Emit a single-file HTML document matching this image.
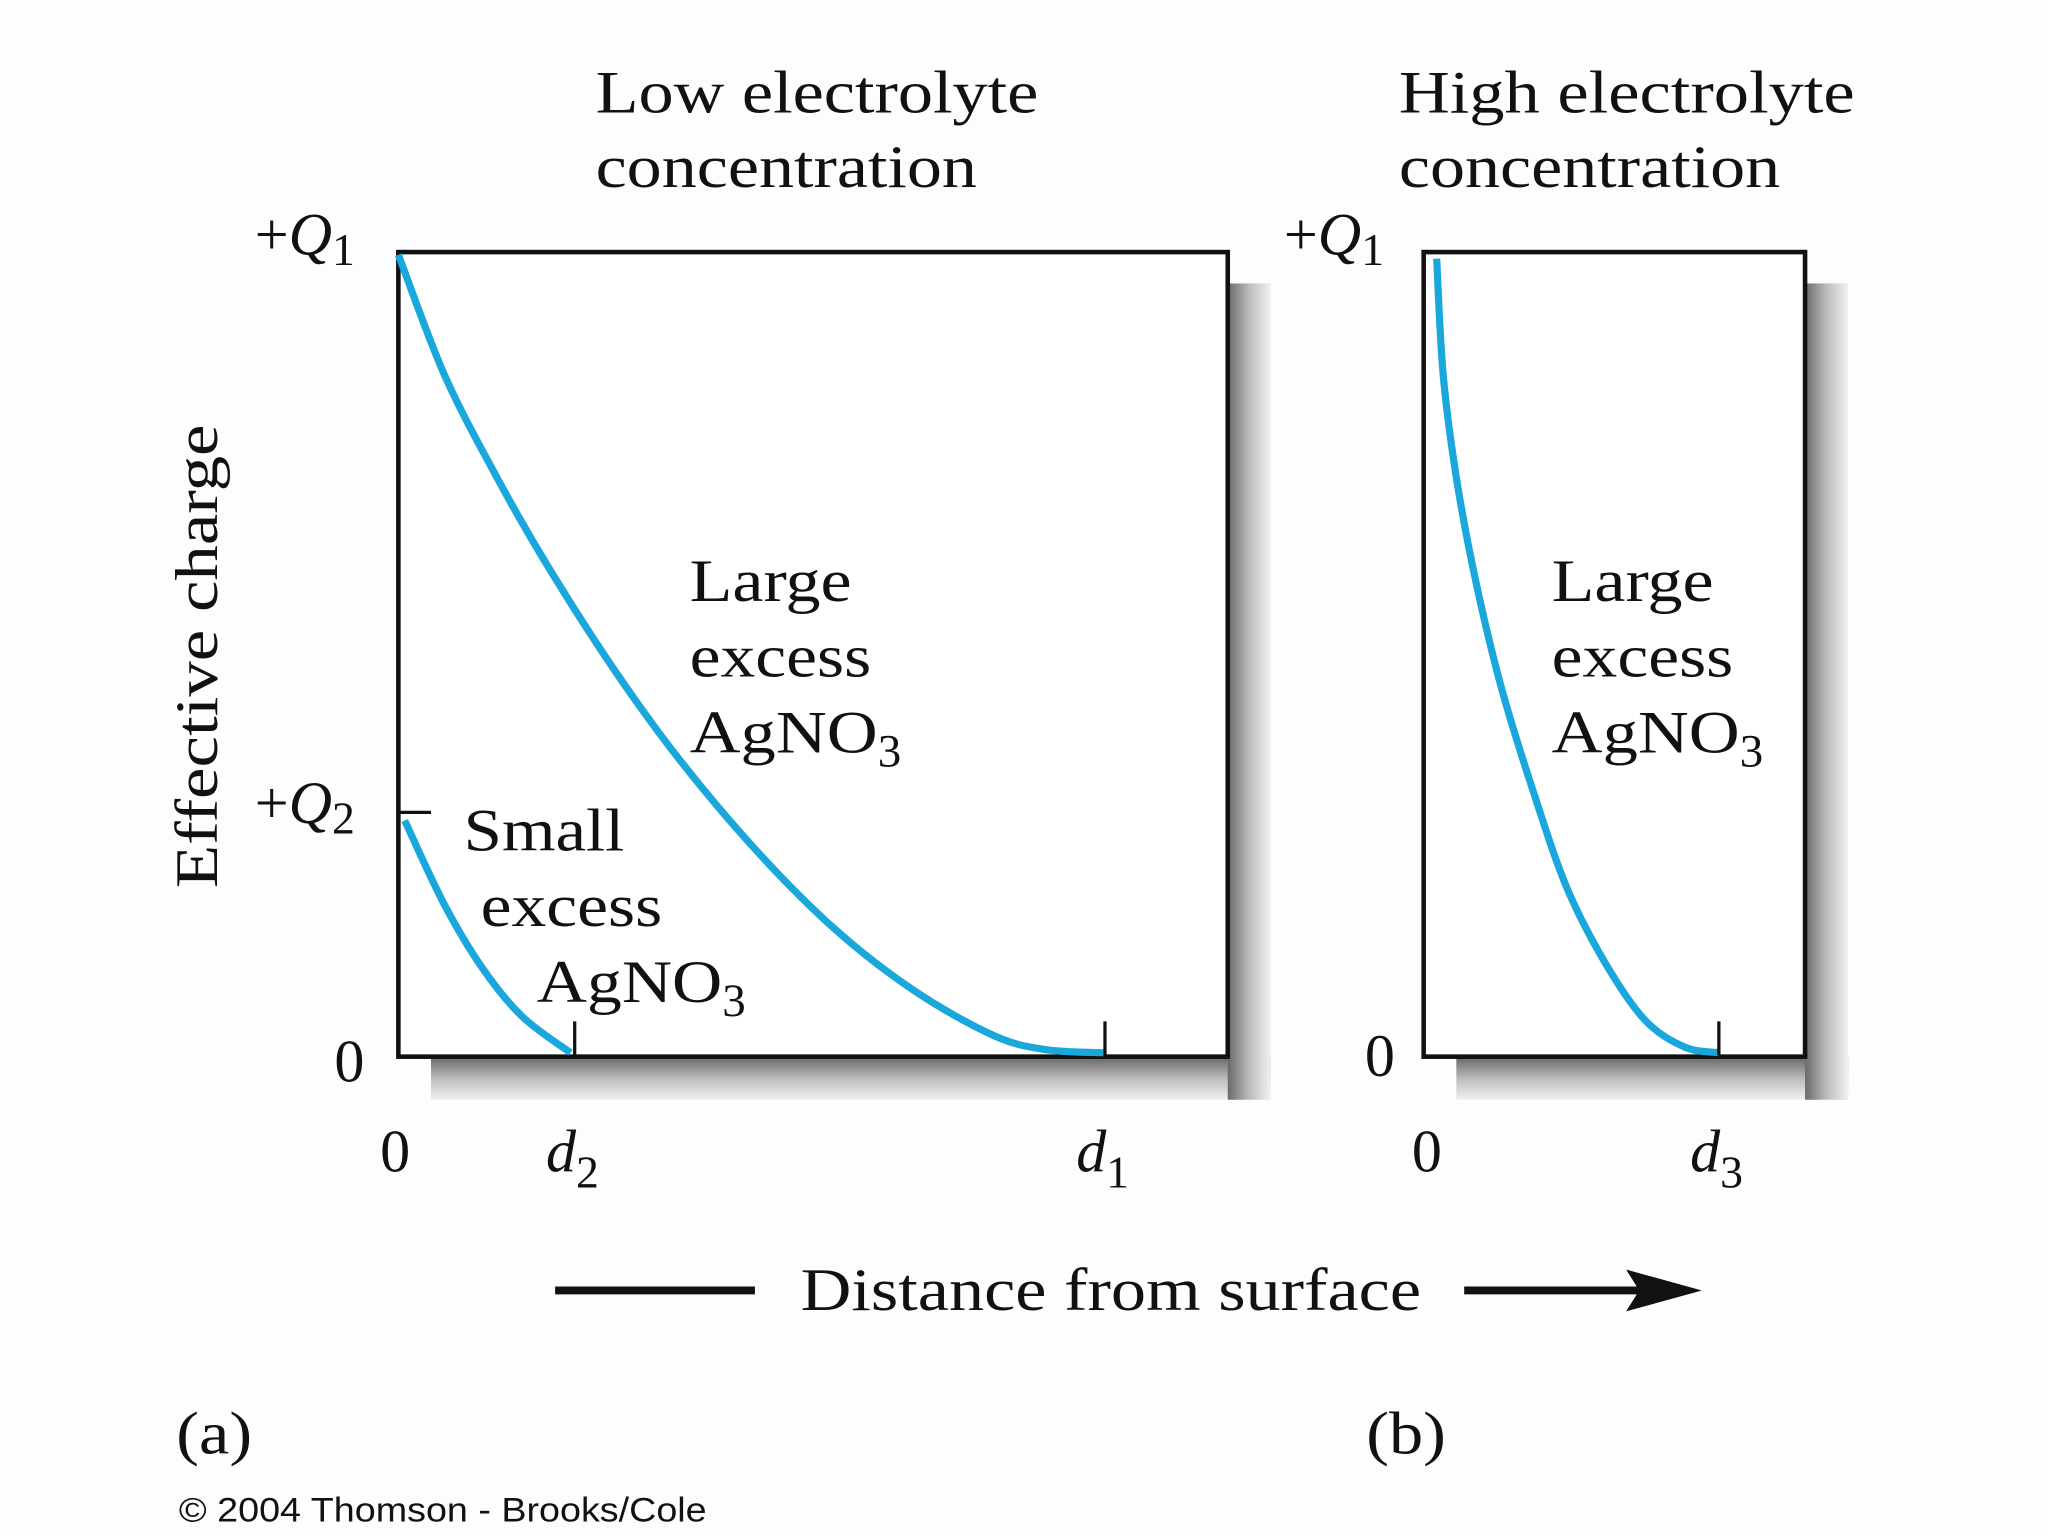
<!DOCTYPE html>
<html><head><meta charset="utf-8"><style>
html,body{margin:0;padding:0;background:#fdfcfe;}
svg{display:block;}
text{font-family:"Liberation Serif",serif;fill:#111;}
</style></head><body>
<svg id="chart" width="2048" height="1536" viewBox="0 0 1568 1176" xmlns="http://www.w3.org/2000/svg">
<defs>
<linearGradient id="shb" x1="0" y1="0" x2="0" y2="1"><stop offset="0" stop-color="#6a6a6a"/><stop offset="0.5" stop-color="#bdbdbd"/><stop offset="1" stop-color="#f1f0f3"/></linearGradient>
<linearGradient id="shr" x1="0" y1="0" x2="1" y2="0"><stop offset="0" stop-color="#6a6a6a"/><stop offset="0.5" stop-color="#bdbdbd"/><stop offset="1" stop-color="#f1f0f3"/></linearGradient>
</defs>
<rect x="0" y="0" width="1568" height="1176" fill="#fdfcfe"/>
<rect x="330" y="810" width="643" height="32" fill="url(#shb)"/>
<rect x="940" y="217" width="33" height="625" fill="url(#shr)"/>
<rect x="1115" y="810" width="300" height="32" fill="url(#shb)"/>
<rect x="1382" y="217" width="33" height="625" fill="url(#shr)"/>
<rect x="305" y="193" width="635" height="616" fill="#fff" stroke="#111" stroke-width="3.5"/>
<rect x="1090" y="193" width="292" height="616" fill="#fff" stroke="#111" stroke-width="3.5"/>
<g id="curves"></g>
<line x1="440" y1="782" x2="440" y2="808" stroke="#111" stroke-width="2.5"/>
<line x1="846" y1="782" x2="846" y2="808" stroke="#111" stroke-width="2.5"/>
<line x1="1316" y1="782" x2="1316" y2="808" stroke="#111" stroke-width="2.5"/>
<line x1="305" y1="622" x2="330" y2="622" stroke="#111" stroke-width="2.5"/>
<g font-size="46" lengthAdjust="spacingAndGlyphs">
<text x="456" y="86" textLength="339" lengthAdjust="spacingAndGlyphs">Low electrolyte</text>
<text x="456" y="143" textLength="292" lengthAdjust="spacingAndGlyphs">concentration</text>
<text x="1071" y="86" textLength="349" lengthAdjust="spacingAndGlyphs">High electrolyte</text>
<text x="1071" y="143" textLength="292" lengthAdjust="spacingAndGlyphs">concentration</text>
</g>
<text x="195" y="195" font-size="46">+<tspan font-style="italic">Q</tspan><tspan font-size="35" dy="8">1</tspan></text>
<text x="983" y="195" font-size="46">+<tspan font-style="italic">Q</tspan><tspan font-size="35" dy="8">1</tspan></text>
<text x="195" y="630" font-size="46">+<tspan font-style="italic">Q</tspan><tspan font-size="35" dy="8">2</tspan></text>
<text x="256" y="828" font-size="46">0</text>
<text x="1045" y="824" font-size="46">0</text>
<text x="291" y="897" font-size="46">0</text>
<text x="1081" y="897" font-size="46">0</text>
<text x="418" y="897" font-size="46" font-style="italic">d<tspan font-style="normal" font-size="35" dy="12">2</tspan></text>
<text x="824" y="897" font-size="46" font-style="italic">d<tspan font-style="normal" font-size="35" dy="12">1</tspan></text>
<text x="1294" y="897" font-size="46" font-style="italic">d<tspan font-style="normal" font-size="35" dy="12">3</tspan></text>
<text transform="translate(166,680) rotate(-90)" font-size="46" textLength="355" lengthAdjust="spacingAndGlyphs">Effective charge</text>
<g font-size="46">
<text x="528" y="460" textLength="124" lengthAdjust="spacingAndGlyphs">Large</text>
<text x="528" y="518" textLength="139" lengthAdjust="spacingAndGlyphs">excess</text>
<text x="528" y="576"><tspan textLength="144" lengthAdjust="spacingAndGlyphs">AgNO</tspan><tspan font-size="36" dy="11">3</tspan></text>
<text x="1188" y="460" textLength="124" lengthAdjust="spacingAndGlyphs">Large</text>
<text x="1188" y="518" textLength="139" lengthAdjust="spacingAndGlyphs">excess</text>
<text x="1188" y="576"><tspan textLength="144" lengthAdjust="spacingAndGlyphs">AgNO</tspan><tspan font-size="36" dy="11">3</tspan></text>
<text x="355" y="651" textLength="123" lengthAdjust="spacingAndGlyphs">Small</text>
<text x="368" y="709" textLength="139" lengthAdjust="spacingAndGlyphs">excess</text>
<text x="411" y="767"><tspan textLength="142" lengthAdjust="spacingAndGlyphs">AgNO</tspan><tspan font-size="36" dy="11">3</tspan></text>
</g>
<line x1="425" y1="988" x2="578" y2="988" stroke="#111" stroke-width="6"/>
<text x="613" y="1003" font-size="46" textLength="475" lengthAdjust="spacingAndGlyphs">Distance from surface</text>
<line x1="1121" y1="988" x2="1260" y2="988" stroke="#111" stroke-width="6"/>
<path d="M1245 972 L1303 988 L1245 1004 L1255 988 Z" fill="#111"/>
<text x="135" y="1113" font-size="46" textLength="58" lengthAdjust="spacingAndGlyphs">(a)</text>
<text x="1046" y="1113" font-size="46" textLength="61" lengthAdjust="spacingAndGlyphs">(b)</text>
<text x="137" y="1165" font-size="26" textLength="404" lengthAdjust="spacingAndGlyphs" style="font-family:'Liberation Sans',sans-serif">© 2004 Thomson - Brooks/Cole</text>
</svg>
<script>
// panel a: x in units of d1, y in units of Q1
const largeAX = [0, 0.065, 0.139, 0.213, 0.306, 0.398, 0.509, 0.620, 0.731, 0.843, 0.917, 1.0];
const largeAY = [1, 0.850, 0.722, 0.608, 0.480, 0.368, 0.252, 0.154, 0.078, 0.022, 0.004, 0];
const smallAX = [0.009, 0.065, 0.120, 0.176, 0.244];
const smallAY = [0.291, 0.186, 0.105, 0.045, 0];
// panel b: x in units of d3
const largeBX = [0.044, 0.066, 0.111, 0.177, 0.265, 0.376, 0.487, 0.619, 0.752, 0.885, 1.0];
const largeBY = [0.995, 0.850, 0.720, 0.590, 0.455, 0.322, 0.205, 0.110, 0.040, 0.007, 0];
const xA = v => 305 + v * 540;
const xB = v => 1090 + v * 226;
const yS = v => 806 - v * 611;
function catmull(pts){
  let d = 'M' + pts[0][0] + ' ' + pts[0][1];
  for (let i = 0; i < pts.length - 1; i++) {
    const p0 = pts[Math.max(0,i-1)], p1 = pts[i], p2 = pts[i+1], p3 = pts[Math.min(pts.length-1,i+2)];
    const c1 = [p1[0]+(p2[0]-p0[0])/6, p1[1]+(p2[1]-p0[1])/6];
    const c2 = [p2[0]-(p3[0]-p1[0])/6, p2[1]-(p3[1]-p1[1])/6];
    d += ' C' + c1.join(' ') + ' ' + c2.join(' ') + ' ' + p2.join(' ');
  }
  return d;
}
const g = document.getElementById('curves');
function draw(xs, ys, xf, name){
  const p = document.createElementNS('http://www.w3.org/2000/svg','path');
  p.setAttribute('d', catmull(xs.map((x,i)=>[xf(x), yS(ys[i])])));
  p.setAttribute('fill','none');
  p.setAttribute('stroke','#1aa8dc');
  p.setAttribute('stroke-width','5.5');
  
  
  g.appendChild(p);
}
draw(largeAX, largeAY, xA, 'curve-large-excess-low');
draw(smallAX, smallAY, xA, 'curve-small-excess-low');
draw(largeBX, largeBY, xB, 'curve-large-excess-high');
</script>
</body></html>
